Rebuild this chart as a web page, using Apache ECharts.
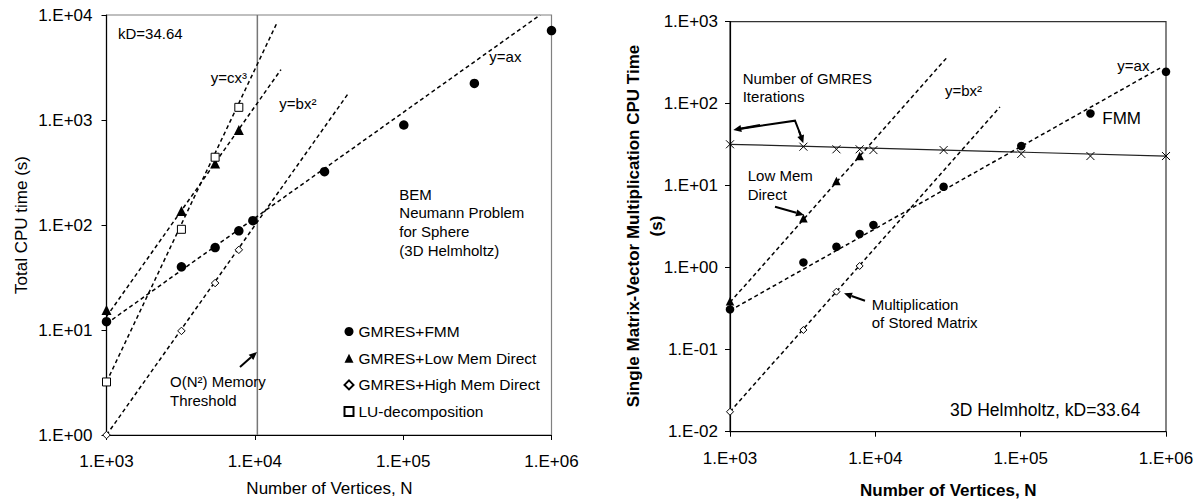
<!DOCTYPE html>
<html>
<head>
<meta charset="utf-8">
<script src="https://cdn.jsdelivr.net/npm/echarts@6/dist/echarts.min.js"></script>
<style>
html,body{margin:0;padding:0;background:#fff;}
#chart{width:1199px;height:500px;}
</style>
</head>
<body>
<div id="chart"></div>
<script>
// ---------- DATA ----------
// Number of vertices N (shared x values)
const N = [1000, 3200, 5400, 7800, 9700, 29500, 101000, 302000, 1000000];
const N_direct = [1000, 3200, 5400, 7800];
const xTicks = [1000, 10000, 100000, 1000000];

// Left chart: Total CPU time (s)
const leftFMM = [12, 40, 61, 88, 110, 322, 896, 2230, 7100];
const leftLowMem = [15.5, 136, 386, 803];
const leftHighMem = [1.0, 9.8, 28, 58];
const leftLU = [3.2, 91, 442, 1320];
// fitted trend lines (endpoints)
const leftFitAx = [[1000, 11.5], [838000, 10000]];
const leftFitBx2High = [[1000, 1.0], [42300, 1760]];
const leftFitBx2Low = [[1000, 13.4], [15000, 3020]];
const leftFitCx3 = [[1000, 3.2], [14200, 8600]];
const memThreshold = [[10400, 1], [10400, 10000]];

// Right chart: single matrix-vector multiplication CPU time (s)
const rightIter = [32, 29.9, 27.8, 27.8, 27.2, 27.2, 24.4, 23, 23];
const rightFMM = [0.31, 1.16, 1.8, 2.58, 3.32, 9.7, 30.5, 76, 245];
const rightLowMem = [0.39, 4.0, 11.4, 23.0];
const rightHighMem = [0.0175, 0.174, 0.51, 1.05];
const rightFitIter = [[1000, 32], [1000000, 23]];
const rightFitAx = [[1000, 0.30], [910000, 272]];
const rightFitLow = [[1000, 0.378], [31000, 363]];
const rightFitHigh = [[1000, 0.0175], [72000, 91]];

// ---------- CHART ----------
const FONT = '"Liberation Sans", Arial, Helvetica, sans-serif';
const zip = (xs, ys) => ys.map((y, i) => [xs[i], y]);
function sci(v) {
  const e = Math.round(Math.log10(v));
  return '1.E' + (e < 0 ? '-' : '+') + String(Math.abs(e)).padStart(2, '0');
}

function xAxisCfg(gi, margin) {
  return {
    gridIndex: gi, type: 'log', logBase: 10, min: 1000, max: 1000000,
    axisLine: { lineStyle: { color: '#000', width: 1.2 } },
    axisTick: { show: true, length: 5, lineStyle: { color: '#000' } },
    axisLabel: { formatter: sci, fontSize: 17, color: '#000', fontFamily: FONT, margin: margin },
    splitLine: { show: false }, minorTick: { show: false }, minorSplitLine: { show: false }
  };
}
function yAxisCfg(gi, min, max, margin) {
  return {
    gridIndex: gi, type: 'log', logBase: 10, min: min, max: max,
    axisLine: { show: true, lineStyle: { color: '#000', width: 1.2 } },
    axisTick: { show: true, length: 5, lineStyle: { color: '#000' } },
    axisLabel: { formatter: sci, fontSize: 17, color: '#000', fontFamily: FONT, margin: margin },
    splitLine: { show: false }, minorTick: { show: false }, minorSplitLine: { show: false }
  };
}

const dashed = { color: '#000', width: 1.5, type: [4, 3] };
function fitLine(name, data, xi, yi, style) {
  return {
    name: name, type: 'line', xAxisIndex: xi, yAxisIndex: yi, data: data,
    showSymbol: false, symbol: 'none', lineStyle: style || dashed, silent: true, z: 2
  };
}
function scatter(name, data, xi, yi, symbol, size, fill, border) {
  return {
    name: name, type: 'scatter', xAxisIndex: xi, yAxisIndex: yi, data: data,
    symbol: symbol, symbolSize: size,
    itemStyle: { color: fill, borderColor: border || '#000', borderWidth: border ? 1 : 0, opacity: 1 },
    z: 5, silent: true
  };
}

function txt(x, y, s, size, opts) {
  return Object.assign({
    type: 'text', x: x, y: y, z: 100,
    style: { text: s, fontSize: size || 15, fontFamily: FONT, fill: '#000', textVerticalAlign: 'middle', textAlign: 'left' }
  }, opts || {});
}
function arrow(x1, y1, x2, y2) {
  const ang = Math.atan2(y2 - y1, x2 - x1);
  const L = 8, W = 3.5;
  const bx = x2 - L * Math.cos(ang), by = y2 - L * Math.sin(ang);
  const px = -Math.sin(ang) * W, py = Math.cos(ang) * W;
  return [
    { type: 'line', z: 100, shape: { x1: x1, y1: y1, x2: bx, y2: by }, style: { stroke: '#000', lineWidth: 2 } },
    { type: 'polygon', z: 100, shape: { points: [[x2, y2], [bx + px, by + py], [bx - px, by - py]] }, style: { fill: '#000' } }
  ];
}
function polyArrow(pts) {
  const n = pts.length;
  const out = [{ type: 'polyline', z: 100, shape: { points: pts.slice(0, n - 1).concat([pts[n - 1]]) }, style: { stroke: '#000', lineWidth: 2, fill: null } }];
  return out;
}

const chart = echarts.init(document.getElementById('chart'), null, { renderer: 'svg' });

const crossPath = 'path://M0,0L10,10M10,0L0,10';

const option = {
  animation: false,
  backgroundColor: '#fff',
  grid: [
    { left: 106.5, top: 15, width: 445, height: 420, show: true, borderColor: '#808080', borderWidth: 1.2, backgroundColor: 'transparent' },
    { left: 730, top: 21.7, width: 436, height: 410, show: true, borderColor: '#333', borderWidth: 1.2, backgroundColor: 'transparent' }
  ],
  xAxis: [xAxisCfg(0, 18), xAxisCfg(1, 18)],
  yAxis: [yAxisCfg(0, 1, 10000, 14), yAxisCfg(1, 0.01, 1000, 12)],
  legend: {
    left: 338.5, top: 318.5, orient: 'vertical', itemWidth: 9, itemHeight: 9, itemGap: 10.7,
    selectedMode: false, textStyle: { fontSize: 15.5, color: '#000', fontFamily: FONT },
    data: ['GMRES+FMM', 'GMRES+Low Mem Direct', 'GMRES+High Mem Direct', 'LU-decomposition']
  },
  series: [
    // left chart
    { name: 'threshold', type: 'line', xAxisIndex: 0, yAxisIndex: 0, data: memThreshold, symbol: 'none',
      lineStyle: { color: '#777', width: 1.5 }, silent: true, z: 1 },
    fitLine('fitAxL', leftFitAx, 0, 0),
    fitLine('fitBx2HighL', leftFitBx2High, 0, 0),
    fitLine('fitBx2LowL', leftFitBx2Low, 0, 0),
    fitLine('fitCx3L', leftFitCx3, 0, 0),
    scatter('GMRES+FMM', zip(N, leftFMM), 0, 0, 'circle', 9.5, '#000'),
    scatter('GMRES+Low Mem Direct', zip(N_direct, leftLowMem), 0, 0, 'triangle', 10, '#000'),
    scatter('GMRES+High Mem Direct', zip(N_direct, leftHighMem), 0, 0, 'diamond', 7.5, '#fff', '#000'),
    scatter('LU-decomposition', zip(N_direct, leftLU), 0, 0, 'rect', 8, '#fff', '#000'),
    // right chart
    fitLine('fitIterR', rightFitIter, 1, 1, { color: '#222', width: 1.2, type: 'solid' }),
    fitLine('fitAxR', rightFitAx, 1, 1),
    fitLine('fitLowR', rightFitLow, 1, 1),
    fitLine('fitHighR', rightFitHigh, 1, 1),
    scatter('GMRES iterations', zip(N, rightIter), 1, 1, crossPath, 8, 'none', '#000'),
    scatter('FMM (right)', zip(N, rightFMM), 1, 1, 'circle', 8.5, '#000'),
    scatter('Low Mem Direct (right)', zip(N_direct, rightLowMem), 1, 1, 'triangle', 8.5, '#000'),
    scatter('High Mem Direct (right)', zip(N_direct, rightHighMem), 1, 1, 'diamond', 7, '#fff', '#000')
  ],
  graphic: [
    // axis titles
    txt(21.7, 225, 'Total CPU time (s)', 17, { rotation: Math.PI / 2, style: { text: 'Total CPU time (s)', fontSize: 17, fontFamily: FONT, fill: '#000', textAlign: 'center', textVerticalAlign: 'middle' } }),
    txt(329.5, 488, 'Number of Vertices, N', 17, { style: { text: 'Number of Vertices, N', fontSize: 17, fontFamily: FONT, fill: '#000', textAlign: 'center', textVerticalAlign: 'middle' } }),
    txt(633, 226, '', 17, { rotation: Math.PI / 2, style: { text: 'Single Matrix-Vector Multiplication CPU Time', fontSize: 17, fontWeight: 'bold', fontFamily: FONT, fill: '#000', textAlign: 'center', textVerticalAlign: 'middle' } }),
    txt(656.7, 226, '', 17, { rotation: Math.PI / 2, style: { text: '(s)', fontSize: 17, fontWeight: 'bold', fontFamily: FONT, fill: '#000', textAlign: 'center', textVerticalAlign: 'middle' } }),
    txt(948.3, 490, '', 17, { style: { text: 'Number of Vertices, N', fontSize: 17, fontWeight: 'bold', fontFamily: FONT, fill: '#000', textAlign: 'center', textVerticalAlign: 'middle' } }),
    // left annotations
    txt(118, 33, 'kD=34.64', 15),
    txt(210.7, 77, 'y=cx³', 15),
    txt(279.3, 103, 'y=bx²', 15),
    txt(489.3, 56, 'y=ax', 15),
    txt(399.3, 194, 'BEM', 15),
    txt(399.3, 212.7, 'Neumann Problem', 15),
    txt(399.3, 231.3, 'for Sphere', 15),
    txt(399.3, 250, '(3D Helmholtz)', 15),
    txt(170, 381.7, 'O(N²) Memory', 15),
    txt(170, 400, 'Threshold', 15),
    ...arrow(240, 367, 257, 352),
    // right annotations
    txt(742.7, 78, 'Number of GMRES', 15),
    txt(742.7, 96.7, 'Iterations', 15),
    { type: 'polyline', z: 100, shape: { points: [[741, 128.7], [795, 120.7], [801, 136]] }, style: { stroke: '#000', lineWidth: 2, fill: null } },
    ...arrow(760, 125, 733.3, 130),
    ...arrow(799, 131, 803.3, 143.3),
    txt(747.7, 175, 'Low Mem', 15),
    txt(747.7, 194.3, 'Direct', 15),
    ...arrow(775, 206.7, 804, 215),
    txt(871.7, 304, 'Multiplication', 15),
    txt(871.7, 322.7, 'of Stored Matrix', 15),
    ...arrow(865, 300.7, 844, 293.3),
    txt(945, 90, 'y=bx²', 15),
    txt(1117.3, 65, 'y=ax', 15),
    txt(1102.3, 118.3, 'FMM', 17),
    txt(950, 410, '3D Helmholtz, kD=33.64', 17.5)
  ]
};
chart.setOption(option);
</script>
</body>
</html>
